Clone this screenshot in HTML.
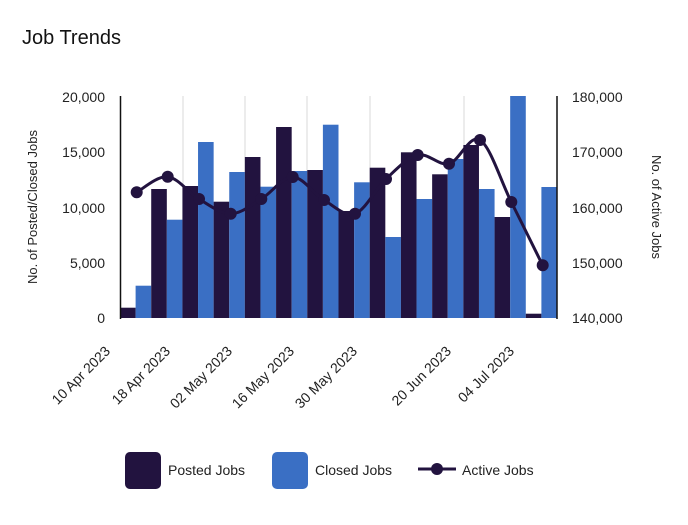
<!DOCTYPE html>
<html><head><meta charset="utf-8"><style>
body{margin:0;background:#fff;}
svg{display:block;font-family:"Liberation Sans",sans-serif;}
</style></head><body>
<svg width="688" height="525" viewBox="0 0 688 525">
<text x="22" y="44" font-size="20" fill="#111">Job Trends</text>
<g stroke="#d8d8d8" stroke-width="1">
<line x1="183" y1="96" x2="183" y2="318"/><line x1="245" y1="96" x2="245" y2="318"/>
<line x1="307" y1="96" x2="307" y2="318"/><line x1="370" y1="96" x2="370" y2="318"/>
<line x1="464" y1="96" x2="464" y2="318"/>
</g>
<g id="bars"></g>
<line x1="120.5" y1="96" x2="120.5" y2="319" stroke="#111" stroke-width="1.5"/>
<line x1="557" y1="96" x2="557" y2="319" stroke="#111" stroke-width="1.5"/>
<path id="ln" fill="none" stroke="#22133f" stroke-width="3"/>
<g id="dots" fill="#22133f"></g>
<g font-size="14" fill="#222" text-anchor="end">
<text x="105" y="102">20,000</text><text x="105" y="157">15,000</text><text x="105" y="213">10,000</text><text x="105" y="268">5,000</text><text x="105" y="323">0</text>
</g>
<g font-size="14" fill="#222">
<text x="572" y="102">180,000</text><text x="572" y="157">170,000</text><text x="572" y="213">160,000</text><text x="572" y="268">150,000</text><text x="572" y="323">140,000</text>
</g>
<text transform="translate(37,207) rotate(-90)" font-size="13" fill="#222" text-anchor="middle">No. of Posted/Closed Jobs</text>
<text transform="translate(652,207) rotate(90)" font-size="13" fill="#222" text-anchor="middle">No. of Active Jobs</text>
<g font-size="14" fill="#222" text-anchor="end">
<text transform="translate(111,352) rotate(-45)">10 Apr 2023</text>
<text transform="translate(171,352) rotate(-45)">18 Apr 2023</text>
<text transform="translate(233,352) rotate(-45)">02 May 2023</text>
<text transform="translate(295,352) rotate(-45)">16 May 2023</text>
<text transform="translate(358,352) rotate(-45)">30 May 2023</text>
<text transform="translate(452,352) rotate(-45)">20 Jun 2023</text>
<text transform="translate(515,352) rotate(-45)">04 Jul 2023</text>
</g>
<rect x="125" y="452" width="36" height="37" rx="5" fill="#22133f"/>
<text x="168" y="475" font-size="14" fill="#222">Posted Jobs</text>
<rect x="272" y="452" width="36" height="37" rx="5" fill="#3a6fc4"/>
<text x="315" y="475" font-size="14" fill="#222">Closed Jobs</text>
<line x1="418" y1="469" x2="456" y2="469" stroke="#22133f" stroke-width="3"/>
<circle cx="437" cy="469" r="6" fill="#22133f"/>
<text x="462" y="475" font-size="14" fill="#222">Active Jobs</text>
</svg>
<script>
var P=[307.7,189,186,201.7,157,127,170,211,167.7,152.3,174.3,145,217,313.7];
var C=[285.7,219.7,142,172,186.7,171,124.7,182.3,237,199,159,189,96,187];
var LX=[136.7,167.7,199,230.7,261.3,292.7,324,355,386,417.7,449,480,511.3,542.7];
var LY=[192.3,176.7,199,213.7,199,177,200,213.7,179,155,163.7,140,202,265.3];
var ns="http://www.w3.org/2000/svg",g=document.getElementById("bars"),d=document.getElementById("dots");
var w=437/14;
for(var i=0;i<14;i++){
 var x=120+i*w;
 var r=document.createElementNS(ns,"rect");r.setAttribute("x",x);r.setAttribute("y",P[i]);r.setAttribute("width",w/2);r.setAttribute("height",318-P[i]);r.setAttribute("fill","#22133f");g.appendChild(r);
 r=document.createElementNS(ns,"rect");r.setAttribute("x",x+w/2);r.setAttribute("y",C[i]);r.setAttribute("width",w/2);r.setAttribute("height",318-C[i]);r.setAttribute("fill","#3a6fc4");g.appendChild(r);
 var c=document.createElementNS(ns,"circle");c.setAttribute("cx",LX[i]);c.setAttribute("cy",LY[i]);c.setAttribute("r",6);d.appendChild(c);
}
var s="M"+LX[0]+","+LY[0];
for(var i=0;i<13;i++){
 var p0=i>0?i-1:i,p3=i<12?i+2:i+1,t=6;
 var c1x=LX[i]+(LX[i+1]-LX[p0])/t,c1y=LY[i]+(LY[i+1]-LY[p0])/t;
 var c2x=LX[i+1]-(LX[p3]-LX[i])/t,c2y=LY[i+1]-(LY[p3]-LY[i])/t;
 s+=" C"+c1x+","+c1y+" "+c2x+","+c2y+" "+LX[i+1]+","+LY[i+1];
}
document.getElementById("ln").setAttribute("d",s);
</script>
</body></html>
